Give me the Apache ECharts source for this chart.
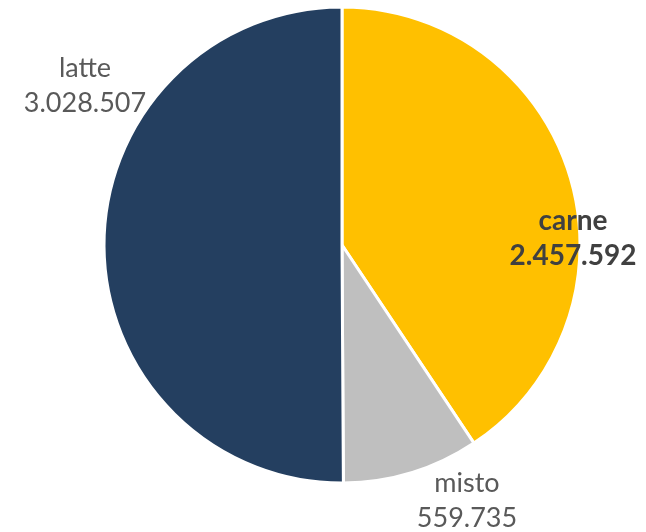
<!DOCTYPE html>
<html><head><meta charset="utf-8">
<script src="https://cdn.jsdelivr.net/npm/echarts@6/dist/echarts.min.js"></script>
<style>html,body{margin:0;padding:0;background:#fff}#c{width:646px;height:532px}</style>
</head><body><div id="c"></div>
<script>
const categories = ['carne', 'misto', 'latte'];
const values = [2457592, 559735, 3028507];
const colors = ['#FFC000', '#BFBFBF', '#243F60'];
const labelPos = { carne: [573, 238], misto: [467, 501], latte: [85, 86] };

function fmt(v) { return String(v).replace(/\B(?=(\d{3})+(?!\d))/g, '.'); }

const chart = echarts.init(document.getElementById('c'), null, { renderer: 'canvas' });
chart.setOption({
  animation: false,
  series: [{
    type: 'pie',
    center: [342, 245],
    radius: 238,
    startAngle: 90,
    clockwise: true,
    avoidLabelOverlap: false,
    itemStyle: { borderColor: '#fff', borderWidth: 3 },
    label: {
      show: true,
      position: 'outside',
      formatter: p => p.name + '\n' + fmt(p.value),
      fontFamily: 'Lato, "Noto Sans", sans-serif',
      fontSize: 27,
      lineHeight: 35,
      color: '#595959',
      align: 'center'
    },
    labelLine: { show: false },
    labelLayout: function (p) {
      const pos = labelPos[categories[p.dataIndex]];
      return { x: pos[0], y: pos[1], align: 'center', verticalAlign: 'middle' };
    },
    data: categories.map((c, i) => ({
      name: c,
      value: values[i],
      itemStyle: { color: colors[i] },
      label: c === 'carne' ? { fontWeight: 'bold', color: '#404040', fontSize: 28 } : {}
    }))
  }]
});
</script></body></html>
